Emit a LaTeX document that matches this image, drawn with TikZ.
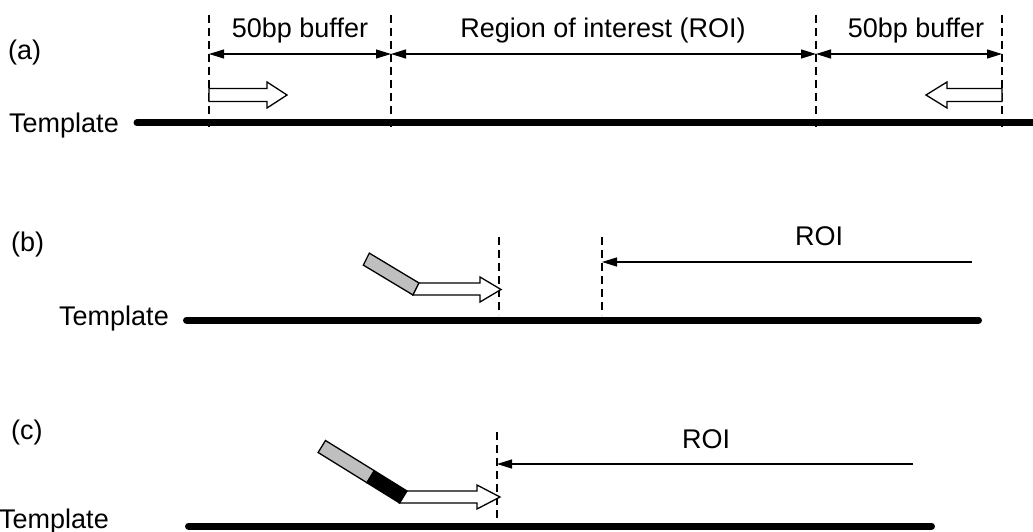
\documentclass[tikz,border=0pt]{standalone}
\usepackage{fontspec}
\setmainfont{Liberation Sans}
\usetikzlibrary{arrows.meta}
\begin{document}
\begin{tikzpicture}[x=1pt,y=-1pt,
  lbl/.style={inner sep=0pt,font=\fontsize{27}{32}\selectfont},
  tmpl/.style={line width=7pt,line cap=round},
  guide/.style={line width=1.3pt,dash pattern=on 8pt off 5pt},
  dim/.style={line width=1.3pt,arrows={Triangle[length=15pt,width=9pt]-Triangle[length=15pt,width=9pt]}},
  roi/.style={line width=1.3pt,arrows={-Triangle[length=15pt,width=9pt]}},
  hollow/.style={draw,fill=white,line width=1.3pt,line join=miter},
  tailgray/.style={draw,fill=black!25,line width=1.3pt},
  tailblack/.style={draw,fill=black,line width=1.3pt}]
\useasboundingbox (0,0) rectangle (1033,532);
\clip (0,0) rectangle (1033,532);

% ---------------- (a) ----------------
\node[lbl,anchor=base west] (la) at (8,60) {(a)};
\node[lbl,anchor=base west] (ta) at (9,132) {Template};
\coordinate (a0) at (137,123);
\coordinate (a1) at (1040,123);
\draw[tmpl] (a0) -- (a1);

\foreach \n/\x in {g1/209,g2/391,g3/816,g4/1002}{
  \coordinate (\n t) at (\x,15);
  \coordinate (\n b) at (\x,130);
  \coordinate (\n m) at (\x,54);
  \draw[guide] (\n t) -- (\n b);
}
\draw[dim] (g1m) -- (g2m);
\draw[dim] (g2m) -- (g3m);
\draw[dim] (g3m) -- (g4m);
\node[lbl,anchor=base] (b1) at (300,38) {50bp buffer};
\node[lbl,anchor=base] (roia) at (603,38) {Region of interest (ROI)};
\node[lbl,anchor=base] (b2) at (916,38) {50bp buffer};

\draw[hollow] (209,88.5) -- (267,88.5) -- (267,82) -- (287,95) -- (267,108) -- (267,101.5) -- (209,101.5) -- cycle;
\draw[hollow] (1002,88.5) -- (947,88.5) -- (947,82) -- (926,95) -- (947,108) -- (947,101.5) -- (1002,101.5) -- cycle;

% ---------------- (b) ----------------
\node[lbl,anchor=base west] (lb) at (11,251) {(b)};
\node[lbl,anchor=base west] (tb) at (59,325) {Template};
\coordinate (b0) at (186.5,320);
\coordinate (b1e) at (978.5,320);
\draw[tmpl] (b0) -- (b1e);
\coordinate (h1t) at (499,237); \coordinate (h1b) at (499,315);
\coordinate (h2t) at (602,237); \coordinate (h2b) at (602,315);
\draw[guide] (h1t) -- (h1b);
\draw[guide] (h2t) -- (h2b);
\coordinate (rb0) at (972,262); \coordinate (rb1) at (602,262);
\draw[roi] (rb0) -- (rb1);
\node[lbl,anchor=base] (roib) at (819,245) {ROI};
\draw[tailgray] (419,283) -- (413,295) -- (363.3,265.1) -- (369.3,253.1) -- cycle;
\draw[hollow] (419,283) -- (480,283) -- (480,277) -- (501,289.5) -- (480,302) -- (480,295) -- (413,295) -- cycle;

% ---------------- (c) ----------------
\node[lbl,anchor=base west] (lc) at (11,439) {(c)};
\node[lbl,anchor=base west] (tc) at (-1,528) {Template};
\coordinate (c0) at (188.5,526);
\coordinate (c1) at (931.5,526);
\draw[tmpl] (c0) -- (c1);
\coordinate (k1t) at (497,432); \coordinate (k1b) at (497,518);
\draw[guide] (k1t) -- (k1b);
\coordinate (rc0) at (913,464); \coordinate (rc1) at (497,464);
\draw[roi] (rc0) -- (rc1);
\node[lbl,anchor=base] (roic) at (706,448) {ROI};
\draw[tailgray] (374.3,470.7) -- (366.9,482.7) -- (318.1,452.5) -- (325.5,440.5) -- cycle;
\draw[tailblack] (407,491) -- (399.6,503) -- (366.9,482.7) -- (374.3,470.7) -- cycle;
\draw[hollow] (407,491) -- (477,491) -- (477,485) -- (500,497) -- (477,509) -- (477,503) -- (399.6,503) -- cycle;
\end{tikzpicture}
\end{document}
